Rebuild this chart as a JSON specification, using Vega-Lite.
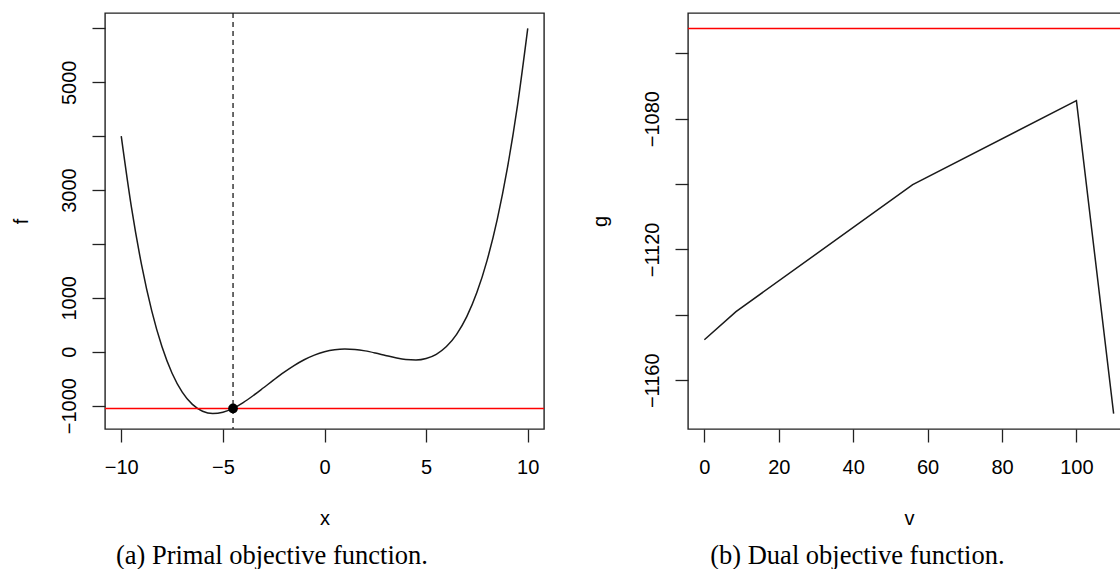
{
  "$schema": "https://vega.github.io/schema/vega-lite/v6.json",
  "padding": {"left": 10, "top": 11, "right": 0, "bottom": 0},
  "background": "white",
  "spacing": 43,
  "datasets": {
    "primal": [
      {"x": -10, "f": 4000}, {"x": -9.5, "f": 2682.56}, {"x": -9, "f": 1611}, {"x": -8.5, "f": 757.56},
      {"x": -8, "f": 96}, {"x": -7.5, "f": -398.44}, {"x": -7, "f": -749}, {"x": -6.5, "f": -977.44},
      {"x": -6, "f": -1104}, {"x": -5.5, "f": -1147.44}, {"x": -5, "f": -1125}, {"x": -4.5, "f": -1052.44},
      {"x": -4, "f": -944}, {"x": -3.5, "f": -812.44}, {"x": -3, "f": -669}, {"x": -2.5, "f": -523.44},
      {"x": -2, "f": -384}, {"x": -1.5, "f": -257.44}, {"x": -1, "f": -149}, {"x": -0.5, "f": -62.44},
      {"x": 0, "f": 0}, {"x": 0.5, "f": 37.56}, {"x": 1, "f": 51}, {"x": 1.5, "f": 42.56},
      {"x": 2, "f": 16}, {"x": 2.5, "f": -23.44}, {"x": 3, "f": -69}, {"x": 3.5, "f": -112.44},
      {"x": 4, "f": -144}, {"x": 4.5, "f": -152.44}, {"x": 5, "f": -125}, {"x": 5.5, "f": -47.44},
      {"x": 6, "f": 96}, {"x": 6.5, "f": 322.56}, {"x": 7, "f": 651}, {"x": 7.5, "f": 1101.56},
      {"x": 8, "f": 1696}, {"x": 8.5, "f": 2457.56}, {"x": 9, "f": 3411}, {"x": 9.5, "f": 4582.56},
      {"x": 10, "f": 6000}
    ],
    "dual": [
      {"v": 0, "g": -1147.6}, {"v": 8.5, "g": -1139}, {"v": 56, "g": -1100.2},
      {"v": 100, "g": -1074.5}, {"v": 110, "g": -1170.2}
    ],
    "optimum": [{"x": -4.5, "f": -1052.44}]
  },
  "hconcat": [
    {
      "width": 439,
      "height": 416,
      "title": {"text": "(a) Primal objective function.", "orient": "bottom", "frame": "bounds", "anchor": "middle", "font": "Liberation Serif", "fontSize": 26.5, "fontWeight": "normal", "color": "#000", "offset": 15, "dx": -6},
      "layer": [
        {
          "data": {"name": "primal"},
          "mark": {"type": "line", "color": "#1a1a1a", "strokeWidth": 1.5, "interpolate": "monotone"},
          "encoding": {
            "x": {"field": "x", "type": "quantitative",
              "scale": {"domain": [-10.8, 10.8], "nice": false, "zero": false},
              "axis": {"values": [-10, -5, 0, 5, 10], "format": "d", "title": "x", "titleY": 89}},
            "y": {"field": "f", "type": "quantitative",
              "scale": {"domain": [-1434, 6286], "nice": false, "zero": false},
              "axis": {"values": [-1000, 0, 1000, 2000, 3000, 4000, 5000, 6000], "format": "d",
                "labelExpr": "indexof([-1000, 0, 1000, 3000, 5000], datum.value) >= 0 ? datum.label : ''",
                "title": "f", "titleX": -84, "titleY": 208}}
          }
        },
        {
          "data": {"name": "optimum"},
          "mark": {"type": "rule", "color": "#1a1a1a", "strokeWidth": 1.3, "strokeDash": [5, 4]},
          "encoding": {"x": {"field": "x", "type": "quantitative"}}
        },
        {
          "data": {"name": "optimum"},
          "mark": {"type": "rule", "color": "#ff0000", "strokeWidth": 1.5},
          "encoding": {"y": {"field": "f", "type": "quantitative"}}
        },
        {
          "data": {"name": "optimum"},
          "mark": {"type": "point", "filled": true, "color": "#000", "opacity": 1, "size": 95},
          "encoding": {"x": {"field": "x", "type": "quantitative"}, "y": {"field": "f", "type": "quantitative"}}
        }
      ]
    },
    {
      "width": 442,
      "height": 416,
      "title": {"text": "(b) Dual objective function.", "orient": "bottom", "frame": "bounds", "anchor": "middle", "font": "Liberation Serif", "fontSize": 26.5, "fontWeight": "normal", "color": "#000", "offset": 15, "dx": -3},
      "layer": [
        {
          "data": {"name": "dual"},
          "mark": {"type": "line", "color": "#1a1a1a", "strokeWidth": 1.5},
          "encoding": {
            "x": {"field": "v", "type": "quantitative",
              "scale": {"domain": [-4.4, 114.4], "nice": false, "zero": false},
              "axis": {"values": [0, 20, 40, 60, 80, 100], "format": "d", "title": "v", "titleY": 89}},
            "y": {"field": "g", "type": "quantitative",
              "scale": {"domain": [-1174.9, -1047.7], "nice": false, "zero": false},
              "axis": {"values": [-1160, -1140, -1120, -1100, -1080, -1060], "format": "d",
                "labelExpr": "datum.value % 40 == 0 ? datum.label : ''",
                "title": "g", "titleX": -88, "titleY": 208}}
          }
        },
        {
          "data": {"name": "optimum"},
          "mark": {"type": "rule", "color": "#ff0000", "strokeWidth": 1.5},
          "encoding": {"y": {"field": "f", "type": "quantitative"}}
        }
      ]
    }
  ],
  "config": {
    "font": "Liberation Sans",
    "view": {"stroke": "#222", "strokeWidth": 1.4},
    "axis": {
      "domain": false, "grid": false, "tickSize": 13, "tickColor": "#222", "tickWidth": 1.3,
      "labelFont": "Liberation Sans", "labelFontSize": 20, "labelColor": "#000",
      "labelOverlap": false, "labelFlush": false,
      "titleFont": "Liberation Sans", "titleFontSize": 20, "titleFontWeight": "normal", "titleColor": "#000",
      "titleAlign": "center", "titleBaseline": "middle"
    },
    "axisX": {"labelPadding": 25, "labelBaseline": "middle", "labelAngle": 0},
    "axisY": {"labelPadding": 23, "labelAngle": 270, "labelAlign": "center", "labelBaseline": "middle", "titleAngle": 270}
  }
}
